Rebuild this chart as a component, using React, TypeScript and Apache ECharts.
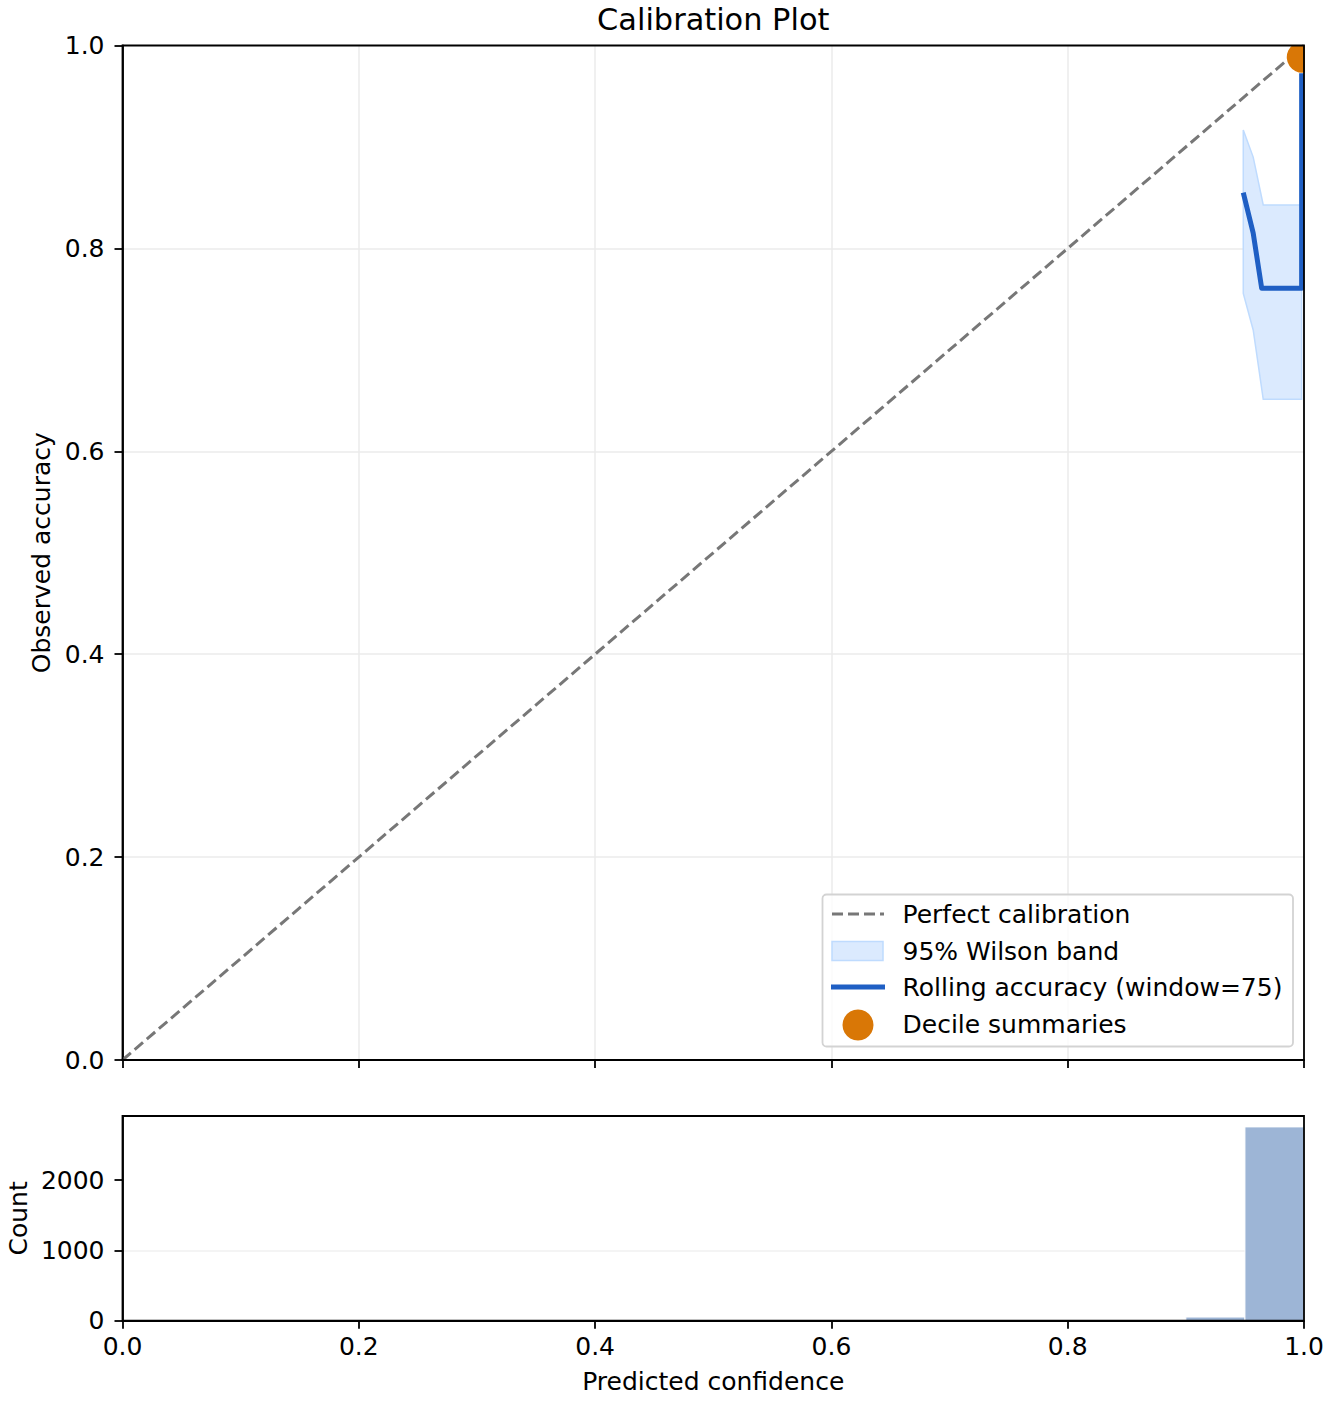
import React, { useEffect, useRef } from "react";
import * as echarts from "echarts";

// ---- data ----
const perfectX = [0, 1];
const perfectY = [0, 1];

const rollX = [0.9486, 0.957, 0.9642, 0.998, 0.998];
const rollY = [0.855, 0.815, 0.7607, 0.7607, 0.9726];

const bandX = [0.9486, 0.957, 0.9655, 0.998];
const bandLo = [0.7557, 0.7196, 0.6513, 0.6513];
const bandHi = [0.9167, 0.89, 0.8428, 0.8428];

const decileX = [0.9985];
const decileY = [0.9897];

const binEdges = [
  0, 0.05, 0.1, 0.15, 0.2, 0.25, 0.3, 0.35, 0.4, 0.45, 0.5, 0.55, 0.6, 0.65,
  0.7, 0.75, 0.8, 0.85, 0.9, 0.95, 1.0,
];
const histCounts = [0, 0, 0, 0, 0, 0, 0, 0, 0, 0, 0, 0, 0, 0, 0, 0, 0, 0, 52, 2755];
const countMax = 2910;
const countTicks = [0, 1000, 2000];

const legendLabels = [
  "Perfect calibration",
  "95% Wilson band",
  "Rolling accuracy (window=75)",
  "Decile summaries",
];

// ---- styles ----
const FONT = "DejaVu Sans";
const FS = 25;
const C_DIAG = "#777777";
const C_ROLL = "#1f5fc4";
const C_BAND = "#dbeafe";
const C_BAND_EDGE = "#bfdbfe";
const C_DEC = "#d97706";
const C_HIST = "#9db5d6";
const C_GRID = "#ebebeb";

const MAIN = { left: 122.5, top: 45.5, width: 1181.5, height: 1014.5 };
const HIST = { left: 122.5, top: 1116, width: 1181.5, height: 204.7 };

export default function App() {
  const ref = useRef<HTMLDivElement>(null);

  useEffect(() => {
    document.body.style.margin = "0";
    if (!ref.current) return;
    const chart = echarts.init(ref.current, undefined, { renderer: "svg" });

    const axisLine = { show: true, lineStyle: { color: "#000", width: 1.8 } };
    const axisTick = { show: true, inside: false, length: 8, lineStyle: { color: "#000", width: 1.8 } };
    const labelStyle = { color: "#000", fontSize: FS, fontFamily: FONT };

    const legendTop = 894.5;
    const legendLeft = 822.5;
    const rowY = [914, 951, 987, 1025];

    const option: any = {
      animation: false,
      backgroundColor: "#fff",
      grid: [
        { ...MAIN, containLabel: false },
        { ...HIST, containLabel: false },
      ],
      xAxis: [
        {
          type: "value",
          gridIndex: 0,
          min: 0,
          max: 1,
          interval: 0.2,
          axisLine,
          axisTick,
          axisLabel: { show: false },
          splitLine: { show: true, showMinLine: false, showMaxLine: false, lineStyle: { color: C_GRID, width: 1.5 } },
        },
        {
          type: "value",
          gridIndex: 1,
          min: 0,
          max: 1,
          interval: 0.2,
          axisLine,
          axisTick,
          axisLabel: { ...labelStyle, margin: 13, formatter: (v: number) => v.toFixed(1) },
          splitLine: { show: false },
        },
      ],
      yAxis: [
        {
          type: "value",
          gridIndex: 0,
          min: 0,
          max: 1,
          interval: 0.2,
          axisLine,
          axisTick,
          axisLabel: { ...labelStyle, margin: 18, formatter: (v: number) => v.toFixed(1) },
          splitLine: { show: true, showMinLine: false, showMaxLine: false, lineStyle: { color: C_GRID, width: 1.5 } },
        },
        {
          type: "value",
          gridIndex: 1,
          min: 0,
          max: countMax,
          interval: 1000,
          axisLine,
          axisTick: { ...axisTick, customValues: countTicks },
          axisLabel: {
            ...labelStyle,
            margin: 18,
            customValues: countTicks,
            formatter: (v: number) => (v % 1000 === 0 ? String(v) : ""),
          },
          splitLine: { show: true, showMinLine: false, showMaxLine: false, lineStyle: { color: "#f0f0f0", width: 1.5 } },
        },
      ],
      series: [
        {
          name: legendLabels[0],
          type: "line",
          xAxisIndex: 0,
          yAxisIndex: 0,
          data: perfectX.map((x, i) => [x, perfectY[i]]),
          symbol: "none",
          lineStyle: { color: C_DIAG, width: 3, type: [11, 5] },
          z: 2,
        },
        {
          name: legendLabels[1],
          type: "custom",
          xAxisIndex: 0,
          yAxisIndex: 0,
          clip: true,
          data: bandX.map((x, i) => [x, bandLo[i], bandHi[i]]),
          encode: { x: 0, y: [1, 2] },
          renderItem: (params: any, api: any) => {
            if (params.dataIndex !== 0) return null;
            const pts: number[][] = [];
            for (let i = 0; i < bandX.length; i++) pts.push(api.coord([bandX[i], bandHi[i]]));
            for (let i = bandX.length - 1; i >= 0; i--) pts.push(api.coord([bandX[i], bandLo[i]]));
            return {
              type: "polygon",
              shape: { points: pts },
              style: { fill: C_BAND, stroke: C_BAND_EDGE, lineWidth: 1.5 },
            };
          },
          z: 3,
        },
        {
          name: legendLabels[2],
          type: "line",
          xAxisIndex: 0,
          yAxisIndex: 0,
          data: rollX.map((x, i) => [x, rollY[i]]),
          symbol: "none",
          lineStyle: { color: C_ROLL, width: 5, join: "round" },
          z: 4,
        },
        {
          name: legendLabels[3],
          type: "custom",
          xAxisIndex: 0,
          yAxisIndex: 0,
          clip: true,
          data: decileX.map((x, i) => [x, decileY[i]]),
          renderItem: (params: any, api: any) => {
            const p = api.coord([api.value(0), api.value(1)]);
            return { type: "circle", shape: { cx: p[0], cy: p[1], r: 15.5 }, style: { fill: C_DEC } };
          },
          z: 5,
        },
        {
          name: "Count",
          type: "custom",
          xAxisIndex: 1,
          yAxisIndex: 1,
          clip: true,
          data: histCounts.map((c, i) => [binEdges[i], binEdges[i + 1], c]),
          encode: { x: [0, 1], y: 2 },
          renderItem: (params: any, api: any) => {
            const c = api.value(2);
            if (!c) return null;
            const p0 = api.coord([api.value(0), c]);
            const p1 = api.coord([api.value(1), 0]);
            return {
              type: "rect",
              shape: { x: p0[0], y: p0[1], width: p1[0] - p0[0], height: p1[1] - p0[1] },
              style: { fill: C_HIST, stroke: "#fff", lineWidth: 1 },
            };
          },
          z: 2,
        },
      ],
      graphic: [
        // frames
        {
          type: "rect",
          z: 100,
          silent: true,
          shape: { x: MAIN.left, y: MAIN.top, width: MAIN.width, height: MAIN.height },
          style: { fill: "none", stroke: "#000", lineWidth: 1.8 },
        },
        {
          type: "rect",
          z: 100,
          silent: true,
          shape: { x: HIST.left, y: HIST.top, width: HIST.width, height: HIST.height },
          style: { fill: "none", stroke: "#000", lineWidth: 1.8 },
        },
        // title & axis labels
        {
          type: "text",
          x: MAIN.left + MAIN.width / 2,
          y: 19,
          style: { text: "Calibration Plot", fontSize: 30.4, fontFamily: FONT, fill: "#000", align: "center", verticalAlign: "middle" },
        },
        {
          type: "text",
          x: 41,
          y: MAIN.top + MAIN.height / 2,
          rotation: Math.PI / 2,
          style: { text: "Observed accuracy", fontSize: FS, fontFamily: FONT, fill: "#000", align: "center", verticalAlign: "middle" },
        },
        {
          type: "text",
          x: 18,
          y: HIST.top + HIST.height / 2,
          rotation: Math.PI / 2,
          style: { text: "Count", fontSize: FS, fontFamily: FONT, fill: "#000", align: "center", verticalAlign: "middle" },
        },
        {
          type: "text",
          x: HIST.left + HIST.width / 2,
          y: 1381,
          style: { text: "Predicted confidence", fontSize: FS, fontFamily: FONT, fill: "#000", align: "center", verticalAlign: "middle" },
        },
        // legend
        {
          type: "rect",
          z: 50,
          shape: { x: legendLeft, y: legendTop, width: 470.5, height: 152, r: 4 },
          style: { fill: "rgba(255,255,255,0.8)", stroke: "#d3d3d3", lineWidth: 1.8 },
        },
        {
          type: "line",
          z: 51,
          shape: { x1: 832, y1: rowY[0], x2: 884, y2: rowY[0] },
          style: { stroke: C_DIAG, lineWidth: 3, lineDash: [11, 5] },
        },
        {
          type: "rect",
          z: 51,
          shape: { x: 832, y: rowY[1] - 9.5, width: 51, height: 19 },
          style: { fill: C_BAND, stroke: C_BAND_EDGE, lineWidth: 1.5 },
        },
        {
          type: "line",
          z: 51,
          shape: { x1: 831, y1: rowY[2], x2: 885, y2: rowY[2] },
          style: { stroke: C_ROLL, lineWidth: 5 },
        },
        {
          type: "circle",
          z: 51,
          shape: { cx: 858, cy: rowY[3], r: 15.5 },
          style: { fill: C_DEC },
        },
        ...legendLabels.map((t, i) => ({
          type: "text",
          z: 52,
          x: 902.5,
          y: rowY[i] - (i === 3 ? 1 : 0),
          style: { text: t, fontSize: FS, fontFamily: FONT, fill: "#000", align: "left", verticalAlign: "middle" },
        })),
      ],
    };

    chart.setOption(option);
    return () => chart.dispose();
  }, []);

  return <div ref={ref} style={{ width: 1332, height: 1404 }} />;
}
